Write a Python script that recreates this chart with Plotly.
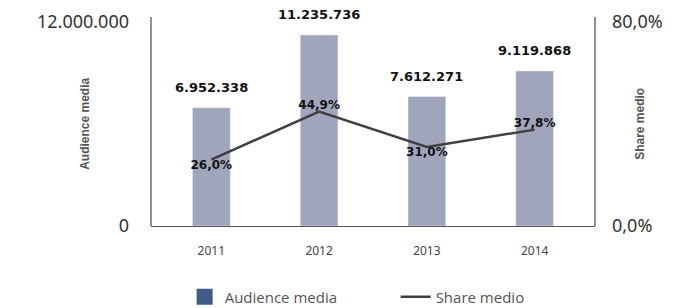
import plotly.graph_objects as go

years = ["2011", "2012", "2013", "2014"]
audience = [6952338, 11235736, 7612271, 9119868]
share = [26.0, 44.9, 31.0, 37.8]
share_pos = ["bottom center", "top center", "bottom center", "top center"]
left_ticks = [0, 12000000]
right_ticks = [0, 80]

bar_color = "#A1A5BB"
legend_bar_color = "#3E5C86"
line_color = "#404040"

fig = go.Figure()

fig.add_trace(go.Bar(
    x=years, y=audience, name="Audience media", marker_color=bar_color,
    width=0.35, showlegend=False, hoverinfo="skip",
))
# bar value labels (x given as category index)
for i, v in enumerate(audience):
    fig.add_annotation(
        x=i, y=v, xref="x", yref="y", text=f"{v:,}".replace(",", "."),
        showarrow=False, yanchor="bottom", yshift=11,
        font=dict(family="DejaVu Sans", size=13, color="#111", weight="bold"),
    )
# legend-only entry for the bars
fig.add_trace(go.Scatter(
    x=[None], y=[None], name="Audience media", mode="markers",
    marker=dict(symbol="square", size=16, color=legend_bar_color),
))
fig.add_trace(go.Scatter(
    x=years, y=share, name="Share medio", yaxis="y2", mode="lines+text",
    line=dict(color=line_color, width=2.5),
    text=[f"{s:.1f}%".replace(".", ",") for s in share],
    textposition=share_pos,
    textfont=dict(family="DejaVu Sans", size=12, color="#111", weight="bold"),
))

fig.update_layout(
    width=689, height=308,
    margin=dict(l=151, r=94, t=22, b=82, autoexpand=False),
    paper_bgcolor="white", plot_bgcolor="white",
    separators=",.",
    xaxis=dict(
        type="category", range=[-0.56, 3.56], showline=True, linecolor="#555",
        linewidth=1.3, ticks="", showgrid=False, ticklabelstandoff=13,
        automargin=False,
        tickfont=dict(family="Noto Sans", size=12, color="#444"),
    ),
    yaxis=dict(
        range=[0, 12000000], tickvals=left_ticks, tickformat=",.0f",
        showgrid=False, zeroline=False, showline=False, ticks="",
        ticklabelstandoff=21, automargin=False,
        tickfont=dict(family="Noto Sans", size=18, color="#333"),
    ),
    yaxis2=dict(
        range=[0, 80], tickvals=right_ticks,
        ticktext=[f"{t:.1f}%".replace(".", ",") for t in right_ticks],
        overlaying="y", side="right", showgrid=False, zeroline=False,
        showline=False, ticks="", ticklabelstandoff=16, automargin=False,
        tickfont=dict(family="Noto Sans", size=18, color="#333"),
    ),
    legend=dict(
        orientation="h", x=0.551, xanchor="center",
        yref="container", y=0.036, yanchor="middle",
        font=dict(family="Open Sans", size=15, color="#555"),
        itemsizing="trace", itemwidth=30,
        entrywidth=166, entrywidthmode="pixels",
    ),
    showlegend=True,
)

# vertical axis lines (slightly extended above the plot area)
for xp in [0, 1]:
    fig.add_shape(type="line", xref="paper", yref="paper", x0=xp, x1=xp,
                  y0=0, y1=1.025, line=dict(color="#555", width=1.3))

# axis titles
fig.add_annotation(xref="paper", yref="paper", x=-0.149, y=0.5,
                   xanchor="center", yanchor="middle",
                   text="<b>Audience media</b>", textangle=-90, showarrow=False,
                   font=dict(family="Liberation Sans", size=12, color="#555"))
fig.add_annotation(xref="paper", yref="paper", x=1.101, y=0.5,
                   xanchor="center", yanchor="middle",
                   text="<b>Share medio</b>", textangle=-90, showarrow=False,
                   font=dict(family="Liberation Sans", size=12, color="#555"))

fig.write_html("out.html", config={"displayModeBar": False},
               post_script="document.body.style.margin='0';")
